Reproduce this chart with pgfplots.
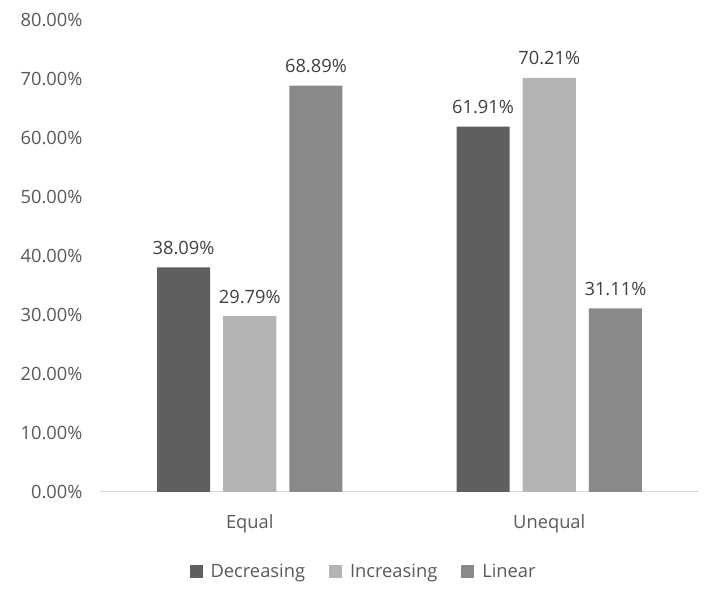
\documentclass[border=0pt]{standalone}
\usepackage{pgfplots}
\pgfplotsset{compat=1.18}
\usepackage{fontspec}
\setmainfont{Open Sans}
\definecolor{cdec}{HTML}{5F5F5F}
\definecolor{cinc}{HTML}{B4B4B4}
\definecolor{clin}{HTML}{898989}
\definecolor{ctxt}{HTML}{595959}
\definecolor{clab}{HTML}{404040}
\begin{document}
\begin{tikzpicture}
\begin{axis}[
  name=ax,
  scale only axis,
  width=599pt, height=472pt,
  xmin=-0.5, xmax=1.5,
  ymin=0, ymax=80,
  ytick={0,10,...,80},
  xtick={0,1},
  xticklabels={Equal,Unequal},
  yticklabel={\pgfmathprintnumber[fixed,fixed zerofill,precision=2]{\tick}\%},
  /pgf/number format/assume math mode=true,
  axis lines=left,
  x axis line style={draw=black!15, line width=1pt, -},
  y axis line style={draw=none},
  major tick length=0pt,
  tick label style={font=\fontsize{18.3}{21}\selectfont, text=ctxt},
  yticklabel style={xshift=-14pt},
  xticklabel style={yshift=-19pt},
  ybar,
  bar width=0.177,
  every node near coord/.append style={font=\fontsize{18.3}{21}\selectfont, text=clab, yshift=9pt},
  nodes near coords={\pgfmathprintnumber[fixed,fixed zerofill,precision=2]{\pgfplotspointmeta}\%},
  legend style={at={(0.44,-0.168)}, anchor=center, draw=none, legend columns=3,
    font=\fontsize{18.3}{21}\selectfont, text=ctxt,
    /tikz/every odd column/.append style={column sep=6pt},
    /tikz/every even column/.append style={column sep=22pt}},
  legend image code/.code={\fill[#1] (0pt,-6.5pt) rectangle (13pt,6.5pt);},
  clip=false,
]
\addplot[fill=cdec, draw=none, bar shift=-0.221] coordinates {(0,38.09) (1,61.91)};
\addplot[fill=cinc, draw=none, bar shift=0] coordinates {(0,29.79) (1,70.21)};
\addplot[fill=clin, draw=none, bar shift=0.221] coordinates {(0,68.89) (1,31.11)};
\legend{Decreasing,Increasing,Linear}
\end{axis}
\useasboundingbox ([xshift=-100pt,yshift=-114pt]ax.south west) rectangle ([xshift=22pt,yshift=20pt]ax.north east);
\end{tikzpicture}
\end{document}
